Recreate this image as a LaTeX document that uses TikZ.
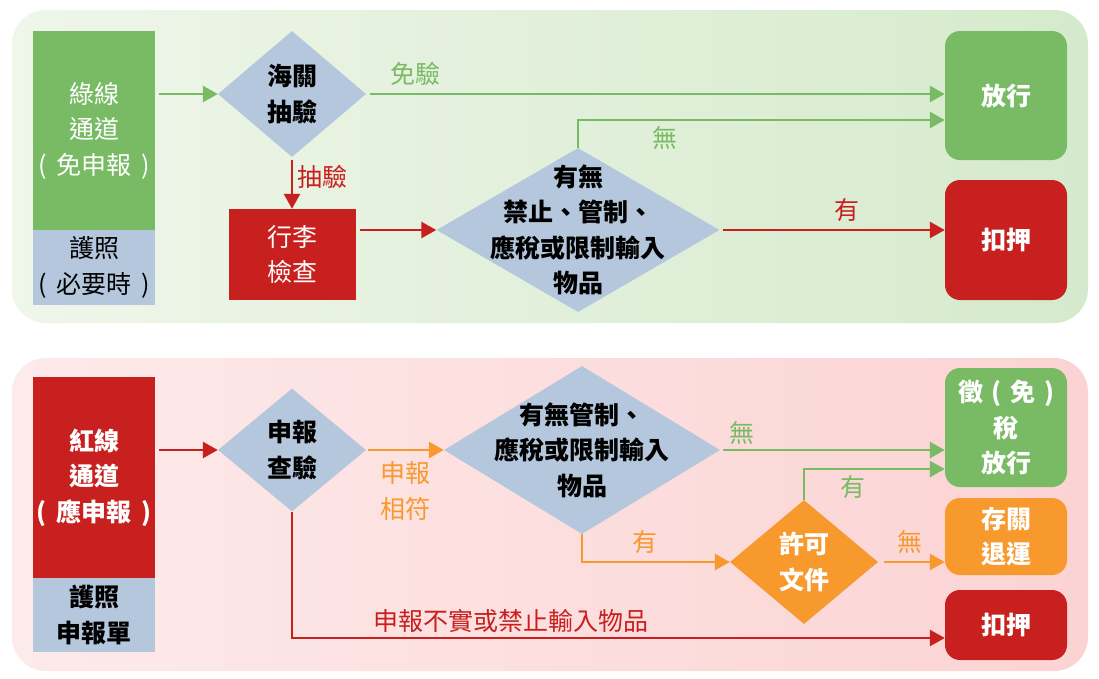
\documentclass[tikz,border=0pt]{standalone}
\usepackage{fontspec}
\setmainfont{Noto Sans CJK TC}
\usetikzlibrary{shapes.geometric,arrows.meta}
\definecolor{grn}{RGB}{121,187,101}
\definecolor{rd}{RGB}{200,32,30}
\definecolor{blu}{RGB}{180,199,221}
\definecolor{org}{RGB}{248,153,46}
\definecolor{gbgA}{RGB}{239,246,234}
\definecolor{gbgB}{RGB}{213,234,204}
\definecolor{rbgA}{RGB}{253,234,234}
\definecolor{rbgB}{RGB}{252,211,211}
\newcommand{\nfont}{\fontsize{25}{35.5}\selectfont}
\newcommand{\bfont}{\fontsize{25}{35.5}\selectfont\bfseries}

\begin{document}
\begin{tikzpicture}
  [x=1pt, y=-1pt, font=\nfont,
   box/.style={rectangle, inner sep=0pt, minimum width=122pt, align=center},
   rbox/.style={box, rounded corners=15pt, text=white, font=\bfont},
   dia/.style={diamond, inner sep=-200pt, align=center, font=\bfont},
   lab/.style={inner sep=0pt, align=center},
   arr/.style={line width=2.7pt, -{Triangle[length=15pt,width=16pt]}}]
  \useasboundingbox (0, 0) rectangle (1099, 678);
  \shade[left color=gbgA, right color=gbgB, rounded corners=34pt] (12, 10) rectangle (1088, 323);
  \shade[left color=rbgA, right color=rbgB, rounded corners=34pt] (12, 358) rectangle (1088, 671);

  \node[box, fill=grn, text=white, minimum height=199pt] (gch) at (94, 130.5) {綠線\\通道\\(\hspace{10pt}免申報\hspace{10pt})};
  \node[box, fill=blu, minimum height=75pt] (gdoc) at (94, 267.5) {護照\\(\hspace{10pt}必要時\hspace{10pt})};
  \node[dia, fill=blu, minimum width=148pt, minimum height=126pt] (chk) at (292, 94) {海關\\抽驗};
  \node[box, fill=rd, text=white, minimum width=127pt, minimum height=91pt] (bag) at (292, 254.5) {行李\\檢查};
  \node[dia, fill=blu, minimum width=283pt, minimum height=164pt] (ban) at (578, 230) {有無\\禁止、管制、\\應稅或限制輸入\\物品};
  \node[rbox, fill=grn, minimum height=129pt] (pass) at (1006, 95.5) {放行};
  \node[rbox, fill=rd, minimum height=120pt] (seizeA) at (1006, 240) {扣押};

  \node[box, fill=rd, text=white, font=\bfont, minimum height=201pt] (rch) at (94, 477.5) {紅線\\通道\\(\hspace{10pt}應申報\hspace{10pt})};
  \node[box, fill=blu, font=\bfont, minimum height=74pt] (rdoc) at (94, 615) {護照\\申報單};
  \node[dia, fill=blu, minimum width=148pt, minimum height=123pt] (decl) at (292, 450) {申報\\查驗};
  \node[dia, fill=blu, minimum width=276pt, minimum height=168pt] (ctrl) at (582, 450) {有無管制、\\應稅或限制輸入\\物品};
  \node[dia, fill=org, text=white, minimum width=148pt, minimum height=124pt] (perm) at (804, 562) {許可\\文件};
  \node[rbox, fill=grn, minimum height=119pt] (tax) at (1006, 427.5) {徵\hspace{8pt}(\hspace{9pt}免\hspace{9pt})\\稅\\放行};
  \node[rbox, fill=org, minimum height=77pt] (store) at (1006, 536.5) {存關\\退運};
  \node[rbox, fill=rd, minimum height=70pt] (seizeB) at (1006, 625) {扣押};

  \node[lab, text=grn] (lfree) at (415, 74) {免驗};
  \node[lab, text=rd] (lpick) at (322, 177) {抽驗};
  \node[lab, text=grn] (lnoA) at (665, 138) {無};
  \node[lab, text=rd] (lyesA) at (847, 210) {有};
  \node[lab, text=org] (lmatch) at (405, 491) {申報\\相符};
  \node[lab, text=grn] (lnoB) at (742, 433) {無};
  \node[lab, text=org] (lyesB) at (645, 542) {有};
  \node[lab, text=grn] (lyesC) at (853, 487) {有};
  \node[lab, text=org] (lnoC) at (910, 542) {無};
  \node[lab, text=rd] (lfalse) at (511, 621) {申報不實或禁止輸入物品};

  \draw[arr, grn, shorten <=4pt] (gch.east |- chk) -- (chk.west);
  \draw[arr, grn, shorten <=4pt] (chk.east) -- (chk.east -| pass.west);
  \draw[arr, rd, shorten <=3pt] (chk.south) -- (bag.north);
  \draw[arr, rd, shorten <=4pt] (bag.east |- ban) -- (ban.west);
  \draw[arr, grn] (ban.north) |- ([yshift=-24.5pt]pass.west);
  \draw[arr, rd, shorten <=3pt] (ban.east) -- (ban.east -| seizeA.west);

  \draw[arr, rd, shorten <=4pt] (rch.east |- decl) -- (decl.west);
  \draw[arr, org, shorten <=2pt] (decl.east) -- (ctrl.west);
  \draw[arr, grn, shorten <=3pt] (ctrl.east) -- (ctrl.east -| tax.west);
  \draw[arr, org] (ctrl.south) |- (perm.west);
  \draw[arr, grn] (perm.north) |- ([yshift=-41.5pt]tax.west);
  \draw[arr, org, shorten <=6pt] (perm.east) -- (perm.east -| store.west);
  \draw[arr, rd] (decl.south) |- ([yshift=-13pt]seizeB.west);
\end{tikzpicture}
\end{document}
